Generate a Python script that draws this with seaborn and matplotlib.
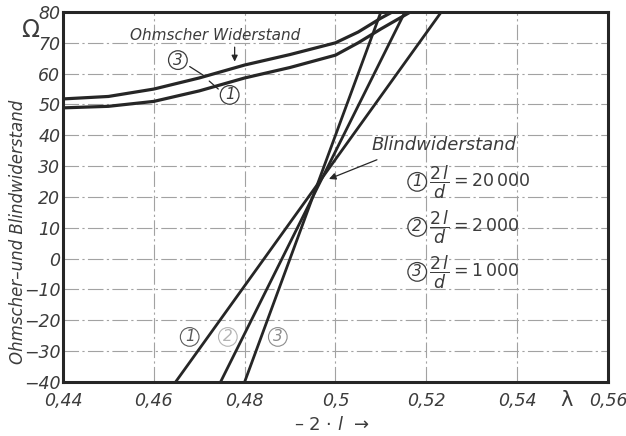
import numpy as np
import pandas as pd
import seaborn as sns
import matplotlib
matplotlib.use("Agg")
import matplotlib.pyplot as plt
from matplotlib import font_manager

# Ohmscher Widerstand, curves 3 and 1
lam_ohm3 = [0.44, 0.45, 0.46, 0.47, 0.48, 0.49, 0.50, 0.505, 0.51, 0.5125]
ohm3 = [51.8, 52.6, 55.0, 58.6, 62.8, 66.2, 70.0, 73.5, 78.0, 80.0]
lam_ohm1 = [0.44, 0.45, 0.46, 0.47, 0.48, 0.49, 0.50, 0.505, 0.51, 0.5165]
ohm1 = [48.9, 49.4, 51.0, 54.4, 58.6, 62.0, 66.0, 70.0, 74.5, 80.0]

# Blindwiderstand, straight lines 1, 2, 3 (lambda at -40 and at 80)
blind_names = ["1", "2", "3"]
blind_lam_low = [0.4648, 0.4747, 0.4800]
blind_lam_high = [0.5233, 0.5153, 0.5100]
blind_val = [-40, 80]

x_ticks = [0.44, 0.46, 0.48, 0.50, 0.52, 0.54, 0.56]
x_labels = ["0,44", "0,46", "0,48", "0,5", "0,52", "0,54", "0,56"]
y_ticks = list(range(-40, 81, 10))
y_labels = [str(v).replace("-", "\u2212") for v in y_ticks]
legend_ratio = ["20\\,000", "2\\,000", "1\\,000"]

sns.set_theme(style="white")
# narrow font if there is one, like the old print
have = {f.name for f in font_manager.fontManager.ttflist}
fams = [f for f in ["Liberation Sans Narrow", "DejaVu Sans"] if f in have]
plt.rcParams["font.family"] = fams
plt.rcParams["mathtext.fontset"] = "dejavusans"
plt.rcParams["mathtext.default"] = "it"

ink = "#262626"
txt = "#3c3c3c"
fs = 12.5

fig = plt.figure(figsize=(6.26, 4.36), dpi=100)
ax = fig.add_axes([0.1006, 0.124, 0.8706, 0.8485])

rows = []
for l, v in zip(lam_ohm3, ohm3):
    rows.append({"lam": l, "val": v, "kurve": "ohm3"})
for l, v in zip(lam_ohm1, ohm1):
    rows.append({"lam": l, "val": v, "kurve": "ohm1"})
ohm_df = pd.DataFrame(rows)
sns.lineplot(data=ohm_df, x="lam", y="val", units="kurve", estimator=None,
             color=ink, lw=2.3, sort=False, ax=ax)

rows = []
for n, lo, hi in zip(blind_names, blind_lam_low, blind_lam_high):
    rows.append({"lam": lo, "val": blind_val[0], "kurve": n})
    rows.append({"lam": hi, "val": blind_val[1], "kurve": n})
blind_df = pd.DataFrame(rows)
sns.lineplot(data=blind_df, x="lam", y="val", units="kurve", estimator=None,
             color=ink, lw=2.0, sort=False, ax=ax)

ax.set_xlim(0.44, 0.56)
ax.set_ylim(-40, 80)
ax.set_xticks(x_ticks)
ax.set_xticklabels(x_labels, fontstyle="italic", color=txt, fontsize=fs)
ax.set_yticks(y_ticks)
ax.set_yticklabels(y_labels, fontstyle="italic", color=txt, fontsize=fs)
ax.tick_params(direction="in", length=4, width=1, color=ink)
ax.tick_params(axis="x", pad=7)
ax.tick_params(axis="y", pad=2)
ax.set_xlabel("")
ax.set_ylabel("")

ax.grid(True, color="#a2a2a2", lw=0.8, linestyle=(0, (14, 3, 2, 3)))
for s in ax.spines.values():
    s.set_color(ink)
    s.set_linewidth(2.2)

# axis texts
fig.text(0.028, 0.468, "Ohmscher\u2013und Blindwiderstand", rotation=90,
         fontstyle="italic", color=txt, fontsize=12, ha="center", va="center")
fig.text(0.048, 0.932, "\u03a9", color=txt, fontsize=17, ha="center", va="center",
         family="DejaVu Sans")
fig.text(0.905, 0.082, "\u03bb", color=txt, fontsize=15, ha="center", va="center",
         family="DejaVu Sans")
fig.text(0.53, 0.025, "\u2013 2 \u00b7 $l$  \u2192", color=txt, fontsize=13,
         ha="center", va="center", family="DejaVu Sans")

circ = dict(boxstyle="circle,pad=0.12", fc="white", ec=txt, lw=0.9)

# Ohmscher Widerstand annotations
ax.text(0.4736, 72.3, "Ohmscher Widerstand", fontstyle="italic", color=txt,
        fontsize=11, ha="center", va="center")
ax.annotate("", xy=(0.4778, 63.0), xytext=(0.4778, 69.5),
            arrowprops=dict(arrowstyle="-|>", color=ink, lw=0.9, mutation_scale=9))
ax.text(0.4653, 64.4, "3", fontstyle="italic", color=txt, fontsize=11,
        ha="center", va="center", bbox=circ)
ax.plot([0.4679, 0.4712], [62.3, 59.2], color=ink, lw=0.9)
ax.text(0.4767, 53.1, "1", fontstyle="italic", color=txt, fontsize=11,
        ha="center", va="center", bbox=circ)
ax.plot([0.4742, 0.4722], [55.0, 57.6], color=ink, lw=0.9)

# Blindwiderstand annotation
ax.text(0.5079, 36.9, "Blindwiderstand", fontstyle="italic", color=txt,
        fontsize=13, ha="left", va="center")
ax.annotate("", xy=(0.4980, 25.5), xytext=(0.5097, 32.4),
            arrowprops=dict(arrowstyle="-|>", color=ink, lw=0.9, mutation_scale=10))

# legend entries
for i, (n, r) in enumerate(zip(blind_names, legend_ratio)):
    yv = 24.9 - i * 14.6
    ax.text(0.5180, yv, n, fontstyle="italic", color=txt, fontsize=11,
            ha="center", va="center", bbox=circ)
    ax.text(0.5206, yv, r"$\dfrac{2\,l}{d} = " + r + "$", color=txt,
            fontsize=12.5, ha="left", va="center")

# circled numbers at the bottom of the straight lines
bottom_cols = ["#5a5a5a", "#b4b4b4", "#8c8c8c"]
for n, lv, c in zip(blind_names, [0.4679, 0.4763, 0.4873], bottom_cols):
    ax.text(lv, -25.4, n, fontstyle="italic", color=c, fontsize=11,
            ha="center", va="center",
            bbox=dict(boxstyle="circle,pad=0.12", fc="white", ec=c, lw=0.8))

fig.savefig("out.png", dpi=100, facecolor="white")
